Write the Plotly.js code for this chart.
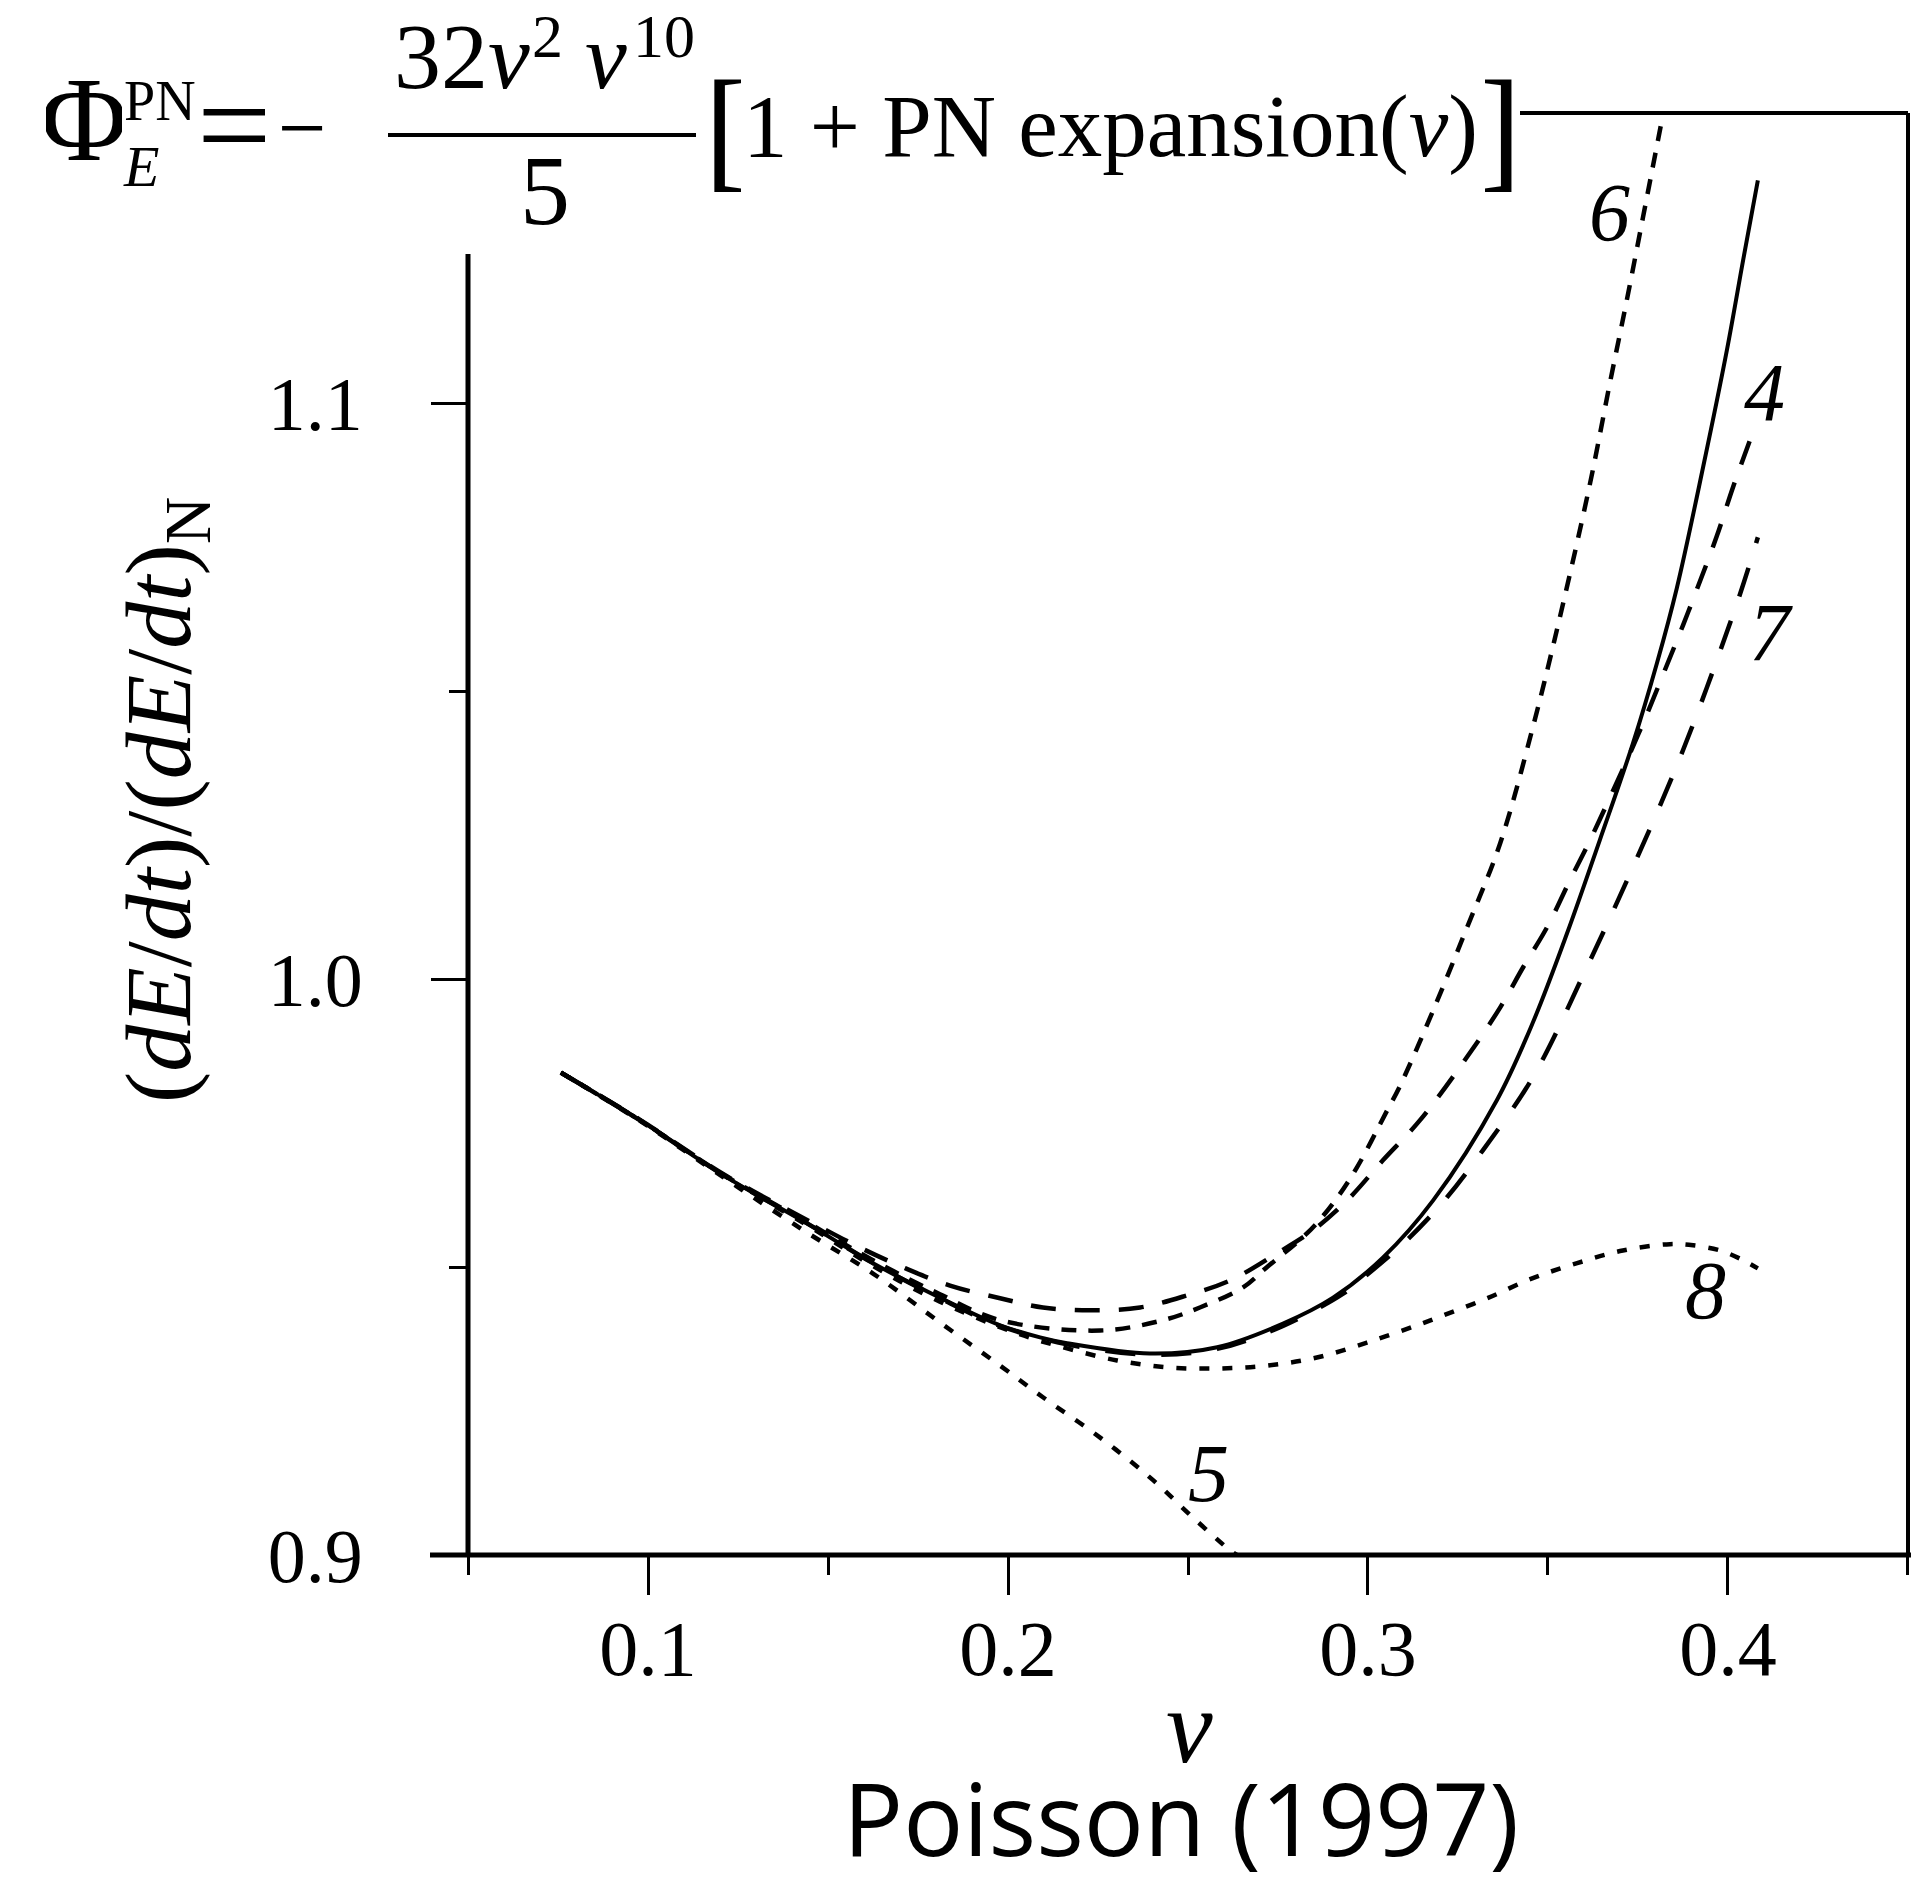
<!DOCTYPE html>
<html>
<head>
<meta charset="utf-8">
<script src="https://cdn.plot.ly/plotly-3.0.1.min.js"></script>
<style>
  html, body { margin: 0; padding: 0; background: #ffffff; }
  #chart { width: 1915px; height: 1896px; }
</style>
</head>
<body>
<div id="chart"></div>
<script>
// ---------- data ----------
const xTickVals = [0.1, 0.2, 0.3, 0.4];
const xTickText = ['0.1', '0.2', '0.3', '0.4'];
const xMinorVals = [0.05, 0.15, 0.25, 0.35, 0.45];
const yTickVals = [0.9, 1.0, 1.1];
const yTickText = ['0.9', '1.0', '1.1'];
const yMinorVals = [0.95, 1.05];

// exact (numerical) flux – solid line
const vExact = [0.0758,0.0978,0.1219,0.1442,0.1625,0.1811,0.1978,0.2089,0.2164,0.2394,0.2581,0.2764,0.2903,0.3042,0.3181,0.3358,0.3458,0.3553,0.3644,0.3736,0.3803,0.3858,0.3931,0.3997,0.4042,0.4083];
const fExact = [0.9838,0.9755,0.9656,0.9576,0.9507,0.9447,0.9399,0.9378,0.9368,0.9350,0.9361,0.9402,0.9447,0.9517,0.9616,0.9790,0.9925,1.0080,1.0242,1.0410,1.0550,1.0680,1.0890,1.1093,1.1249,1.1388];

// order 4
const vPN4 = [0.0758,0.0978,0.1219,0.1469,0.1589,0.1708,0.1839,0.1978,0.2097,0.2228,0.2367,0.2497,0.2617,0.2747,0.2847,0.2942,0.3042,0.3144,0.3275,0.3367,0.3431,0.3497,0.3561,0.3617,0.3672,0.3728,0.3783,0.3831,0.3875,0.3914,0.3969,0.4014,0.4069];
const fPN4 = [0.9838,0.9756,0.9658,0.9573,0.9534,0.9500,0.9468,0.9446,0.9430,0.9425,0.9430,0.9451,0.9477,0.9524,0.9564,0.9616,0.9686,0.9755,0.9865,0.9951,1.0021,1.0090,1.0172,1.0242,1.0316,1.0393,1.0473,1.0547,1.0615,1.0678,1.0770,1.0855,1.0950];

// order 5
const vPN5 = [0.0758,0.0978,0.1219,0.1442,0.1625,0.1811,0.1978,0.2097,0.2256,0.2403,0.2514,0.2617,0.2636];
const fPN5 = [0.9838,0.9754,0.9652,0.9560,0.9489,0.9404,0.9329,0.9274,0.9204,0.9130,0.9065,0.9008,0.9000];

// order 6
const vPN6 = [0.0758,0.0978,0.1219,0.1442,0.1625,0.1811,0.1978,0.2256,0.2431,0.2533,0.2653,0.2719,0.2831,0.2903,0.2969,0.3053,0.3089,0.3181,0.3275,0.3367,0.3458,0.3533,0.3617,0.3672,0.3719,0.3764,0.3819];
const fPN6 = [0.9838,0.9755,0.9657,0.9578,0.9512,0.9453,0.9408,0.9390,0.9408,0.9430,0.9465,0.9500,0.9559,0.9611,0.9673,0.9772,0.9815,0.9946,1.0090,1.0236,1.0438,1.0629,1.0862,1.1036,1.1180,1.1324,1.1501];

// order 7
const vPN7 = [0.0758,0.0978,0.1219,0.1442,0.1625,0.1811,0.1978,0.2164,0.2394,0.2581,0.2764,0.2931,0.2986,0.3108,0.3219,0.3319,0.3458,0.3608,0.3736,0.3875,0.4028,0.4083];
const fPN7 = [0.9838,0.9755,0.9656,0.9576,0.9507,0.9446,0.9398,0.9366,0.9348,0.9358,0.9398,0.9454,0.9481,0.9547,0.9621,0.9703,0.9830,1.0021,1.0195,1.0398,1.0659,1.0768];

// order 8
const vPN8 = [0.0758,0.0978,0.1219,0.1442,0.1625,0.1811,0.2025,0.2164,0.2303,0.2442,0.2581,0.2719,0.2858,0.2997,0.3136,0.3208,0.3331,0.3458,0.3581,0.3708,0.3839,0.3903,0.3978,0.4033,0.4083];
const fPN8 = [0.9838,0.9755,0.9655,0.9573,0.9502,0.9440,0.9385,0.9359,0.9338,0.9326,0.9324,0.9329,0.9343,0.9369,0.9399,0.9416,0.9446,0.9481,0.9507,0.9529,0.9540,0.9538,0.9529,0.9515,0.9498];

const curveLabels = ['4', '5', '6', '7', '8'];

// ---------- geometry helpers (layout only) ----------
const W = 1915, H = 1896;
const M = {l: 468, r: 7, t: 113, b: 341};
const PW = W - M.l - M.r, PH = H - M.t - M.b;
const px = x => (x - M.l) / PW;
const py = y => (H - M.b - y) / PH;

const SERIF = 'Liberation Serif, Times New Roman, serif';
const BLACK = '#000000';

function line(x, y, dash, width) {
  return {
    x: x, y: y, type: 'scatter', mode: 'lines',
    line: {color: BLACK, width: width, dash: dash, shape: 'spline', smoothing: 1.0},
    hoverinfo: 'skip', showlegend: false
  };
}

const traces = [
  line(vPN5, fPN5, '10px,13px', 4.5),
  line(vPN8, fPN8, '10px,13px', 4.5),
  line(vPN6, fPN6, '15px,12px', 4.5),
  line(vPN7, fPN7, '30px,26px', 4.5),
  line(vPN4, fPN4, '25px,19px', 4.5),
  line(vExact, fExact, 'solid', 4)
];

function txt(text, x, y, size, extra) {
  return Object.assign({
    text: text, xref: 'paper', yref: 'paper', x: px(x), y: py(y),
    xanchor: 'center', yanchor: 'middle', showarrow: false, borderpad: 0,
    font: {family: SERIF, size: size, color: BLACK}
  }, extra || {});
}

const annotations = [
  // curve labels
  txt('<i>' + curveLabels[2] + '</i>', 1609, 213, 82),
  txt('<i>' + curveLabels[0] + '</i>', 1764, 392, 82),
  txt('<i>' + curveLabels[3] + '</i>', 1771, 633, 82),
  txt('<i>' + curveLabels[4] + '</i>', 1705, 1290, 82),
  txt('<i>' + curveLabels[1] + '</i>', 1208, 1473, 82),
  // axis titles
  txt('<i>v</i>', 1189, 1726, 105),
  txt('(<i>dE</i>/<i>dt</i>)/(<i>dE</i>/<i>dt</i>)<sub>N</sub>', 165, 800, 94, {textangle: -90}),
  // formula
  txt('Φ', 84, 119, 120, {width: 76, height: 96}),
  txt('PN', 160, 101, 56, {height: 42}),
  txt('<i>E</i>', 141, 166, 58, {height: 42}),
  txt('=', 234, 124, 132, {height: 60}),
  txt('−', 302, 128, 86, {height: 40}),
  txt('32<i>ν</i>', 393, 56, 94, {xanchor: 'left'}),
  txt('2', 531, 36, 62, {xanchor: 'left'}),
  txt('<i>v</i>', 584, 56, 94, {xanchor: 'left'}),
  txt('10', 632, 36, 62, {xanchor: 'left'}),
  txt('5', 545, 191, 100),
  txt('[', 727, 128, 136, {width: 28}),
  txt('1 + PN expansion(<i>v</i>)', 1110, 126, 89),
  txt(']', 1499, 128, 136, {width: 28})
];

const shapes = [
  // axis frame
  {type: 'line', xref: 'paper', yref: 'paper', x0: px(430), x1: px(1911), y0: 0, y1: 0, line: {color: BLACK, width: 5}},
  {type: 'line', xref: 'paper', yref: 'paper', x0: 0, x1: 0, y0: 0, y1: py(254), line: {color: BLACK, width: 5}},
  {type: 'line', xref: 'paper', yref: 'paper', x0: 1, x1: 1, y0: 0, y1: 1, line: {color: BLACK, width: 4}},
  {type: 'line', xref: 'paper', yref: 'paper', x0: px(1520), x1: 1, y0: 1, y1: 1, line: {color: BLACK, width: 4}},
  // fraction bar
  {type: 'line', xref: 'paper', yref: 'paper', x0: px(388), x1: px(696), y0: py(135), y1: py(135), line: {color: BLACK, width: 4}}
];

const layout = {
  width: W, height: H,
  margin: M,
  paper_bgcolor: '#ffffff', plot_bgcolor: '#ffffff',
  showlegend: false,
  title: {
    text: 'Poisson (1997)',
    font: {family: 'Open Sans, sans-serif', size: 100, color: BLACK},
    xref: 'container', yref: 'container',
    x: 1181 / W, y: 1 - 1821 / H, xanchor: 'center', yanchor: 'middle'
  },
  xaxis: {
    range: [0.04999, 0.45001], showgrid: false, zeroline: false, showline: false,
    ticks: 'outside', ticklen: 39, tickwidth: 3, tickcolor: BLACK,
    tickmode: 'array', tickvals: xTickVals, ticktext: xTickText,
    tickfont: {family: SERIF, size: 78, color: BLACK},
    ticklabelstandoff: -14,
    minor: {tickmode: 'array', tickvals: xMinorVals, ticks: 'outside', ticklen: 19, tickwidth: 3, tickcolor: BLACK, showgrid: false}
  },
  yaxis: {
    range: [0.9, 1.1505], showgrid: false, zeroline: false, showline: false,
    ticks: 'outside', ticklen: 36, tickwidth: 3, tickcolor: BLACK,
    tickmode: 'array', tickvals: yTickVals, ticktext: yTickText,
    tickfont: {family: SERIF, size: 76, color: BLACK},
    ticklabelstandoff: 53,
    minor: {tickmode: 'array', tickvals: yMinorVals, ticks: 'outside', ticklen: 18, tickwidth: 3, tickcolor: BLACK, showgrid: false}
  },
  annotations: annotations,
  shapes: shapes
};

Plotly.newPlot('chart', traces, layout, {staticPlot: true, displayModeBar: false});
</script>
</body>
</html>
